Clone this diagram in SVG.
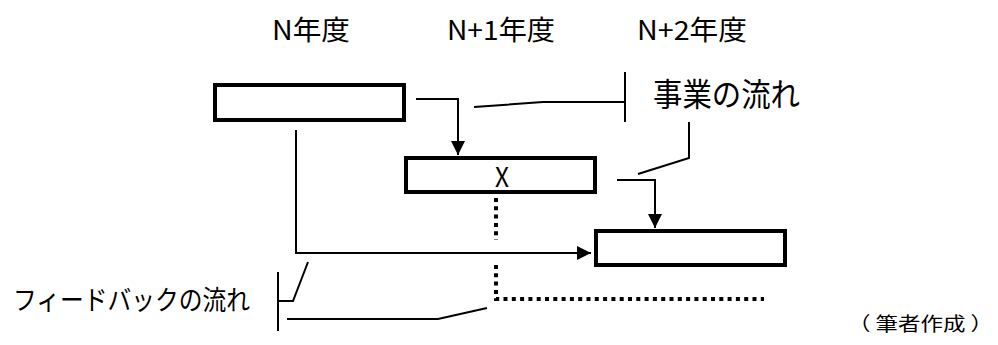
<svg xmlns="http://www.w3.org/2000/svg" width="998" height="345" viewBox="0 0 998 345">
<style>
.box{fill:#fff;stroke:#000;stroke-width:4}
.ln{fill:none;stroke:#000;stroke-width:2}
.dot{fill:none;stroke:#000;stroke-width:4;stroke-dasharray:4 4.3}
.t{font-family:"Noto Sans CJK JP","Liberation Sans",sans-serif;fill:#000}
</style>
<defs>
<marker id="ah" markerUnits="userSpaceOnUse" markerWidth="14" markerHeight="14" viewBox="0 0 13 13" refX="13" refY="6.5" orient="auto">
<path d="M0,0 L13,6.5 L0,13 Z" fill="#000"/>
</marker>
</defs>
<g id="headings">
<text class="t" x="272" y="40" font-size="27" textLength="78" lengthAdjust="spacingAndGlyphs">N年度</text>
<text class="t" x="447" y="40" font-size="27" textLength="108" lengthAdjust="spacingAndGlyphs">N+1年度</text>
<text class="t" x="637" y="40" font-size="27" textLength="110" lengthAdjust="spacingAndGlyphs">N+2年度</text>
</g>
<g id="node-n"><rect class="box" x="215" y="85" width="189" height="35"/></g>
<g id="node-x"><rect class="box" x="406" y="158" width="189" height="34"/>
<text class="t" x="495" y="187" font-size="27" textLength="14" lengthAdjust="spacingAndGlyphs">X</text></g>
<g id="node-n2"><rect class="box" x="596" y="231" width="189" height="34"/></g>
<g id="connectors">
<path class="ln" d="M416,99 H458 V155" marker-end="url(#ah)"/>
<path class="ln" d="M296,130 V253 H591" marker-end="url(#ah)"/>
<path class="ln" d="M617,180 H655 V228" marker-end="url(#ah)"/>
<path class="dot" d="M496,198 V240"/>
<path class="dot" d="M496,265 V299 H764"/>
</g>
<g id="label-business">
<path class="ln" d="M474,107 L543,102 H625"/>
<path class="ln" d="M625,72 V122"/>
<path class="ln" d="M689,122 V158 L638,174"/>
<text class="t" x="653" y="106" font-size="32" textLength="147" lengthAdjust="spacingAndGlyphs">事業の流れ</text>
</g>
<g id="label-feedback">
<path class="ln" d="M278,272 V331"/>
<path class="ln" d="M278,301 H293 L308,262"/>
<path class="ln" d="M287,319 H438 L487,308"/>
<text class="t" x="13" y="310" font-size="27" textLength="237" lengthAdjust="spacingAndGlyphs">フィードバックの流れ</text>
</g>
<g id="source">
<text class="t" x="848" y="331" font-size="19" textLength="145" lengthAdjust="spacingAndGlyphs">（ 筆者作成 ）</text>
</g>
</svg>
